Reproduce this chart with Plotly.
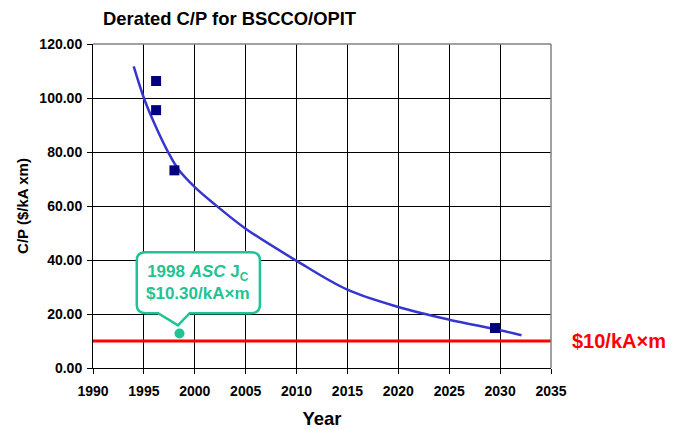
import plotly.graph_objects as go

# ---- data ----
curve_years = [1994.0, 1995.0, 1996.0, 1997.3, 1998.4, 2000.0, 2002.0, 2005.0, 2010.0, 2015.0, 2020.0, 2025.0, 2030.0, 2032.1]
curve_cp = [111.7, 100.0, 90.8, 80.5, 73.5, 67.0, 60.5, 51.6, 39.7, 29.0, 22.6, 17.9, 14.0, 12.1]
point_years = [1996.2, 1996.2, 1998.0, 2029.5]
point_cp = [106.3, 95.5, 73.2, 14.8]
asc_year = [1998.5]
asc_cp = [12.8]
target_years = [1990, 2035]
target_cp = [10, 10]
x_ticks = [1990, 1995, 2000, 2005, 2010, 2015, 2020, 2025, 2030, 2035]
y_ticks = [0, 20, 40, 60, 80, 100, 120]

FONT = "Liberation Sans, Arial, sans-serif"
TEAL = "#1fc394"

# page has an 8px body margin; the figure is sized to fill the rest of the window
W, H = 670, 421

fig = go.Figure()
fig.add_trace(go.Scatter(x=target_years, y=target_cp, mode="lines",
                         line=dict(color="#ff0000", width=3), showlegend=False, cliponaxis=False))
fig.add_trace(go.Scatter(x=curve_years, y=curve_cp, mode="lines",
                         line=dict(color="#3535d0", width=2.5, shape="spline", smoothing=1),
                         showlegend=False))
fig.add_trace(go.Scatter(x=point_years, y=point_cp, mode="markers",
                         marker=dict(symbol="square", color="#000080", size=10), showlegend=False))
fig.add_trace(go.Scatter(x=asc_year, y=asc_cp, mode="markers",
                         marker=dict(symbol="circle", color=TEAL, size=10), showlegend=False))

# callout box (rounded rectangle with tail) in data coords
x0, x1, yb, yt = 1994.3, 2006.4, 20.3, 42.9
rx, ry = 0.9, 3.0
tl, tr, tipx, tipy = 1996.4, 1999.5, 1998.35, 15.8
path = (f"M {x0+rx},{yt} L {x1-rx},{yt} Q {x1},{yt} {x1},{yt-ry} "
        f"L {x1},{yb+ry} Q {x1},{yb} {x1-rx},{yb} "
        f"L {tr},{yb} L {tipx},{tipy} L {tl},{yb} "
        f"L {x0+rx},{yb} Q {x0},{yb} {x0},{yb+ry} "
        f"L {x0},{yt-ry} Q {x0},{yt} {x0+rx},{yt} Z")
fig.add_shape(type="path", path=path, xref="x", yref="y",
              line=dict(color=TEAL, width=2.5), fillcolor="white", layer="above")
fig.add_annotation(x=(x0 + x1) / 2, y=(yb + yt) / 2, xref="x", yref="y",
                   text="<b>1998 <i>ASC</i> J<sub>C</sub></b><br><b>$10.30/kA×m</b>",
                   showarrow=False, font=dict(family=FONT, size=17, color=TEAL),
                   align="center")

# gray top/right borders
fig.add_shape(type="line", xref="paper", yref="paper", x0=0, x1=1, y0=1, y1=1,
              line=dict(color="#808080", width=1.5))
fig.add_shape(type="line", xref="paper", yref="paper", x0=1, x1=1, y0=0, y1=1,
              line=dict(color="#808080", width=1.5))

fig.add_annotation(x=1 + 19 / 458, y=10, xref="paper", yref="y", text="<b>$10/kA×m</b>",
                   showarrow=False, xanchor="left", yanchor="middle",
                   font=dict(family=FONT, size=20, color="#ff0000"))

fig.update_layout(
    width=W, height=H,
    margin=dict(l=85, r=127, t=36, b=61),
    paper_bgcolor="white", plot_bgcolor="white",
    font=dict(family=FONT, color="black"),
    title=dict(text="<b>Derated C/P for BSCCO/OPIT</b>", x=95 / W, xref="container",
               xanchor="left", y=1 - 11 / H, yref="container", yanchor="middle",
               font=dict(family=FONT, size=18.4, color="black")),
    xaxis=dict(range=[1990, 2035], tickvals=x_ticks, ticktext=[f"<b>{v}</b>" for v in x_ticks],
               showgrid=True, gridcolor="black", gridwidth=1,
               showline=True, linecolor="black", linewidth=1,
               ticks="outside", ticklen=5, tickcolor="black",
               tickfont=dict(size=14, family=FONT), automargin=False, ticklabelstandoff=5,
               title=dict(text="<b>Year</b>", font=dict(size=18.5, family=FONT), standoff=15),
               zeroline=False, fixedrange=True),
    yaxis=dict(range=[0, 120], tickvals=y_ticks, ticktext=[f"<b>{v:.2f}</b>" for v in y_ticks],
               showgrid=True, gridcolor="black", gridwidth=1,
               showline=True, linecolor="black", linewidth=1,
               ticks="outside", ticklen=5, tickcolor="black",
               tickfont=dict(size=14, family=FONT), automargin=False, ticklabelstandoff=2,
               title=dict(text="<b>C/P ($/kA xm)</b>", font=dict(size=15, family=FONT), standoff=7),
               zeroline=False, fixedrange=True),
)

fig.write_html("out.html")
